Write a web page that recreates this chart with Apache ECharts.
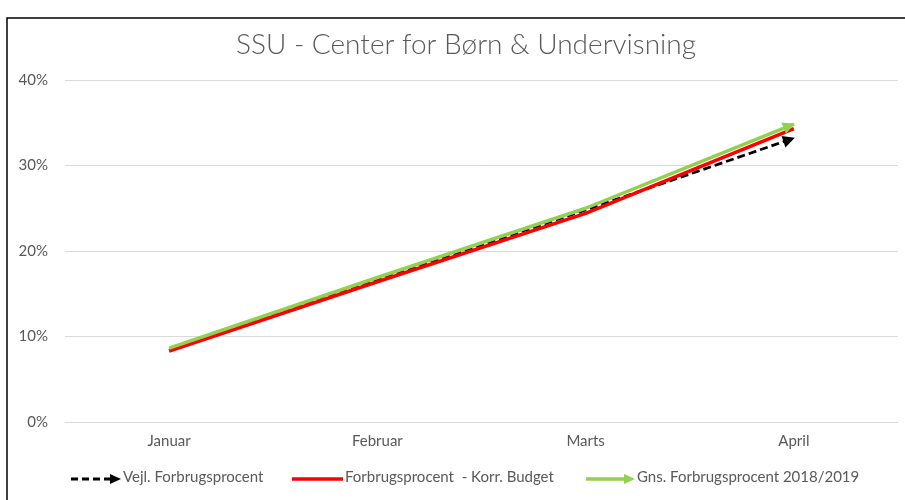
<!DOCTYPE html>
<html>
<head>
<meta charset="utf-8">
<script src="https://cdn.jsdelivr.net/npm/echarts@6/dist/echarts.min.js"></script>
<style>html,body{margin:0;padding:0;background:#fff;}#c{width:905px;height:500px;}</style>
</head>
<body>
<div id="c"></div>
<script>
var titleText = 'SSU - Center for Børn & Undervisning';
var categories = ['Januar', 'Februar', 'Marts', 'April'];
var seriesNames = ['Vejl. Forbrugsprocent', 'Forbrugsprocent  - Korr. Budget', 'Gns. Forbrugsprocent 2018/2019'];
var vejl = [0.084, 0.166, 0.248, 0.332];
var korr = [0.083, 0.164, 0.244, 0.343];
var gns = [0.0865, 0.169, 0.250, 0.3485];
var yTicks = [0, 0.1, 0.2, 0.3, 0.4];

var colors = ['#000000', '#ff0000', '#92d050'];
var FONT = 'Lato';
var chart = echarts.init(document.getElementById('c'), null, {renderer: 'canvas'});

function seriesData(vals, arrow) {
  return vals.map(function (v, i) {
    if (arrow && i === vals.length - 1) return {value: v, symbol: 'triangle', symbolSize: 12};
    return {value: v, symbol: 'none'};
  });
}

var option = {
  animation: false,
  backgroundColor: '#fff',
  title: {
    text: titleText, left: 461, top: 26, textAlign: 'center',
    textStyle: {fontFamily: FONT, fontSize: 28, fontWeight: 300, color: '#595959'}
  },
  grid: {left: 65, right: 7, top: 80, bottom: 78, containLabel: false},
  xAxis: {
    type: 'category', data: categories, boundaryGap: true,
    axisLine: {show: true, lineStyle: {color: '#d9d9d9', width: 1}},
    axisTick: {show: false},
    axisLabel: {fontFamily: FONT, fontSize: 15, color: '#595959', margin: 12}
  },
  yAxis: {
    type: 'value', min: yTicks[0], max: yTicks[yTicks.length - 1], interval: 0.1,
    axisLine: {show: false}, axisTick: {show: false},
    splitLine: {lineStyle: {color: '#d9d9d9', width: 1}},
    axisLabel: {fontFamily: FONT, fontSize: 15, color: '#595959', margin: 17,
      formatter: function (v) { return Math.round(v * 100) + '%'; }}
  },
  series: [
    {name: seriesNames[0], type: 'line', data: seriesData(vejl, true), z: 2,
      lineStyle: {color: colors[0], width: 2.75, type: [8, 4]}, itemStyle: {color: colors[0]}},
    {name: seriesNames[1], type: 'line', data: seriesData(korr, false), z: 3,
      lineStyle: {color: colors[1], width: 3.5}, itemStyle: {color: colors[1]}},
    {name: seriesNames[2], type: 'line', data: seriesData(gns, true), z: 4,
      lineStyle: {color: colors[2], width: 3.5}, itemStyle: {color: colors[2]}}
  ],
  graphic: [
    {type: 'polyline', shape: {points: [[7, 500], [7, 18], [905, 18]]}, style: {stroke: '#000', lineWidth: 1.5, fill: null}},
    // legend
    {type: 'line', shape: {x1: 71, y1: 479, x2: 112, y2: 479}, style: {stroke: colors[0], lineWidth: 3, lineDash: [7, 4]}},
    {type: 'polygon', shape: {points: [[110, 474], [121, 479], [110, 484]]}, style: {fill: colors[0]}},
    {type: 'text', left: 123, top: 470, style: {text: seriesNames[0], font: '15px ' + FONT, fill: '#595959'}},
    {type: 'line', shape: {x1: 292, y1: 479, x2: 343, y2: 479}, style: {stroke: colors[1], lineWidth: 3.5}},
    {type: 'text', left: 345, top: 470, style: {text: seriesNames[1], font: '15px ' + FONT, fill: '#595959'}},
    {type: 'line', shape: {x1: 586, y1: 479, x2: 626, y2: 479}, style: {stroke: colors[2], lineWidth: 3.5}},
    {type: 'polygon', shape: {points: [[624, 474], [635, 479], [624, 484]]}, style: {fill: colors[2]}},
    {type: 'text', left: 637, top: 470, style: {text: seriesNames[2], font: '15px ' + FONT, fill: '#595959'}}
  ]
};
chart.setOption(option);

// orient arrowheads along the last segment
function arrowFor(si, vals) {
  var n = vals.length;
  var p1 = chart.convertToPixel({seriesIndex: si}, [n - 2, vals[n - 2]]);
  var p2 = chart.convertToPixel({seriesIndex: si}, [n - 1, vals[n - 1]]);
  var dx = p2[0] - p1[0], dy = p2[1] - p1[1];
  var len = Math.sqrt(dx * dx + dy * dy);
  var ang = Math.atan2(-dy, dx) * 180 / Math.PI;
  var back = 5;
  return {rot: ang - 90, off: [-dx / len * back, -dy / len * back]};
}
[[0, vejl], [2, gns]].forEach(function (p) {
  var a = arrowFor(p[0], p[1]);
  var d = option.series[p[0]].data;
  var last = d[d.length - 1];
  last.symbolRotate = a.rot;
  last.symbolOffset = a.off;
});
chart.setOption({series: option.series});
</script>
</body>
</html>
